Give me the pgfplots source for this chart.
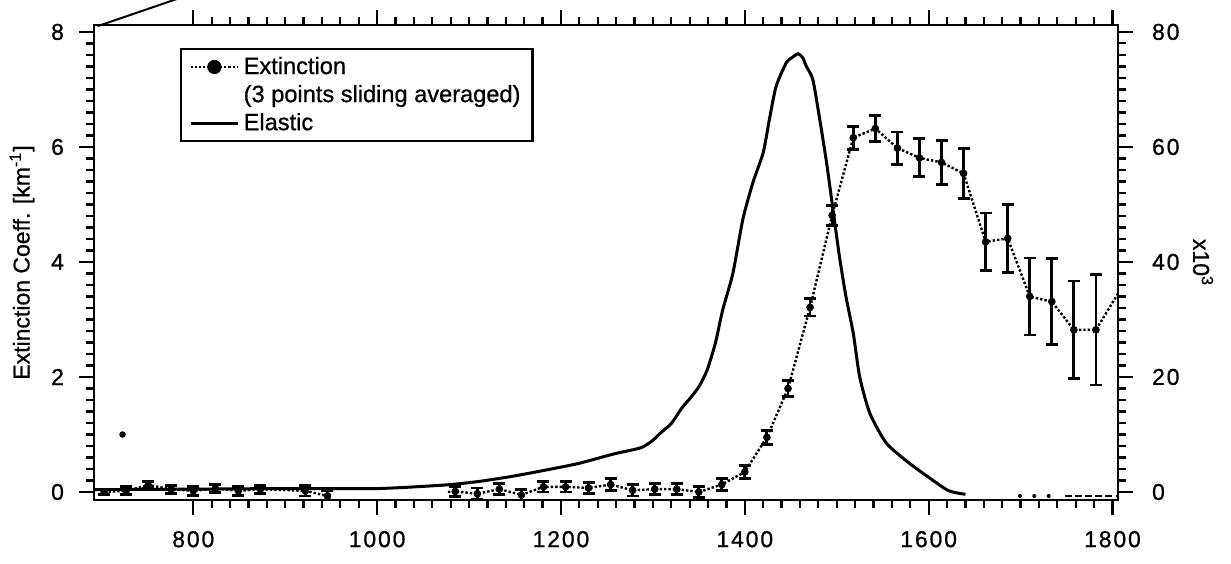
\documentclass[border=0pt]{standalone}
\usepackage{fontspec}
\setmainfont[FakeBold=0.8]{Liberation Sans}
\newfontfamily\tickfont[LetterSpace=8,FakeBold=0.8]{Liberation Sans}
\usepackage{pgfplots}
\pgfplotsset{compat=1.18}
\usetikzlibrary{calc}

\pgfplotstableread{
x y e
703 0.00 0.04
727 0.02 0.07
751 0.12 0.06
776 0.05 0.07
800 0.02 0.08
824 0.06 0.07
849 0.02 0.08
873 0.05 0.07
922 0.02 0.09
946 -0.07 0.10
}\extA

\pgfplotstableread{
x y e
1085 0.01 0.09
1109 -0.03 0.10
1133 0.05 0.10
1157 -0.05 0.10
1181 0.09 0.09
1205 0.09 0.09
1230 0.07 0.10
1254 0.13 0.10
1278 0.03 0.10
1302 0.05 0.10
1326 0.05 0.10
1350 0.00 0.10
1375 0.13 0.10
1400 0.35 0.11
1424 0.95 0.12
1447 1.80 0.14
1471 3.21 0.15
1495 4.81 0.17
1518 6.16 0.20
1542 6.32 0.23
1566 5.98 0.28
1590 5.81 0.33
1614 5.73 0.38
1638 5.54 0.43
1662 4.35 0.50
1686 4.41 0.59
1710 3.40 0.67
1734 3.31 0.75
1758 2.82 0.85
1782 2.82 0.96
}\extB

\pgfplotstableread{
x y
692 0.4
800 0.5
900 0.6
1000 0.6
1072 1.2
1109 1.8
1146 2.7
1183 3.8
1220 5.0
1257 6.6
1287 7.7
1300 9.0
1310 10.5
1320 11.9
1331 14.5
1340 16.2
1350 18.3
1359 21.2
1368 25.9
1376 31.7
1387 38.0
1398 47.5
1409 53.9
1420 59.0
1427 65.0
1434 70.5
1445 74.6
1452 75.6
1458 76.2
1463 75.5
1467 74.0
1474 71.7
1481 65.3
1489 57.2
1496 49.0
1503 40.9
1510 34.0
1518 27.6
1525 20.0
1536 13.7
1554 8.5
1579 5.0
1604 2.1
1622 0.2
1640 -0.4
}\elastic

\begin{document}
\begin{tikzpicture}
\begin{axis}[
  name=main,
  scale only axis, width=512pt, height=237.5pt,
  xmin=692, xmax=1806, ymin=-0.139, ymax=8.12,
  xtick={800,1000,...,1800}, minor x tick num=9,
  ytick={0,2,...,8}, minor y tick num=9,
  xtick pos=both, xticklabel pos=bottom, ytick pos=left,
  tick align=outside,
  major tick length=7.5pt, minor tick length=4pt,
  every tick/.style={black, line width=1.1pt},
  axis line style={line width=1.4pt},
  /pgf/number format/assume math mode=true,
  /pgf/number format/1000 sep={},
  tick label style={font=\tickfont\fontsize{11.5}{13}\selectfont},
  xticklabel style={yshift=-4.5pt},
  yticklabel style={xshift=-4pt},
  ylabel={Extinction Coeff. [km\textsuperscript{-1}]},
  ylabel style={font=\fontsize{11.5}{13}\selectfont, at={(axis description cs:-0.0703,0.5)}, anchor=center},
  legend style={at={(0.084,0.952)}, anchor=north west, draw=black, line width=1.1pt,
    font=\fontsize{11.8}{14}\selectfont, row sep=0pt, inner xsep=4pt, inner ysep=2pt,
    legend image code/.code={\draw[mark repeat=2,mark phase=2,#1] plot coordinates {(0cm,0cm)(0.42cm,0cm)(0.84cm,0cm)};}},
  legend cell align=left,
]
\addlegendimage{black, densely dotted, line width=1.1pt, mark=*, mark size=3pt, mark options={solid}}
\addlegendentry{Extinction}
\addlegendimage{empty legend}
\addlegendentry{(3 points sliding averaged)}
\addlegendimage{black, line width=1.4pt}
\addlegendentry{Elastic}

\addplot[forget plot, black, densely dotted, line width=1.2pt] table[x=x,y=y] {\extA};
\addplot[forget plot, black, densely dotted, line width=1.2pt] coordinates {
(1077,0.0)(1085,0.01)(1109,-0.03)(1133,0.05)(1157,-0.05)(1181,0.09)(1205,0.09)(1230,0.07)(1254,0.13)(1278,0.03)(1302,0.05)(1326,0.05)(1350,0.00)(1375,0.13)(1400,0.35)(1424,0.95)(1447,1.80)(1471,3.21)(1495,4.81)(1518,6.16)(1542,6.32)(1566,5.98)(1590,5.81)(1614,5.73)(1638,5.54)(1662,4.35)(1686,4.41)(1710,3.40)(1734,3.31)(1758,2.82)(1782,2.82)(1806,3.45)};
\addplot[forget plot, black, only marks, mark=*, mark size=1.7pt,
  error bars/.cd, y dir=both, y explicit,
  error bar style={line width=1.4pt},
  error mark options={rotate=90, mark size=3pt, line width=1.4pt}]
  table[x=x,y=y,y error=e] {\extA};
\addplot[forget plot, black, only marks, mark=*, mark size=1.7pt,
  error bars/.cd, y dir=both, y explicit,
  error bar style={line width=1.4pt},
  error mark options={rotate=90, mark size=3pt, line width=1.4pt}]
  table[x=x,y=y,y error=e] {\extB};
\addplot[forget plot, black, only marks, mark=*, mark size=1.4pt] coordinates {(723,1.0)};
\addplot[forget plot, black, line width=1.8pt, line cap=round, dash pattern=on 0.2pt off 7pt] coordinates {(1699,-0.07)(1745,-0.07)};
\addplot[forget plot, black, line width=1.4pt, dash pattern=on 3.5pt off 1.6pt] coordinates {(1748,-0.07)(1804,-0.07)};
\end{axis}

\begin{axis}[
  scale only axis, width=512pt, height=237.5pt,
  xmin=692, xmax=1806, ymin=-1.39, ymax=81.2,
  axis x line=none, axis y line*=right,
  ytick={0,20,40,60,80}, minor y tick num=9,
  yticklabels={\hspace*{6pt}0,\hspace*{6pt}20,\hspace*{6pt}40,\hspace*{6pt}60,\hspace*{6pt}80},
  tick align=outside,
  major tick length=7.5pt, minor tick length=4pt,
  every tick/.style={black, line width=1.1pt},
  axis line style={line width=1.4pt},
  tick label style={font=\tickfont\fontsize{11.5}{13}\selectfont},
  ylabel={x10\textsuperscript{3}},
  ylabel style={rotate=180, font=\fontsize{11.5}{13}\selectfont, at={(axis description cs:1.083,0.5)}, anchor=center},
  clip=false,
]
\addplot[black, line width=1.5pt, smooth, tension=0.4] table[x=x,y=y] {\elastic};
\addplot[black, line width=1pt] coordinates {(696,81.0)(800,86.7)};
\end{axis}

\pgfresetboundingbox
\path[use as bounding box] ($(main.south west)+(-47pt,-31.5pt)$) rectangle ($(main.north east)+(56.5pt,12.5pt)$);
\end{tikzpicture}
\end{document}
